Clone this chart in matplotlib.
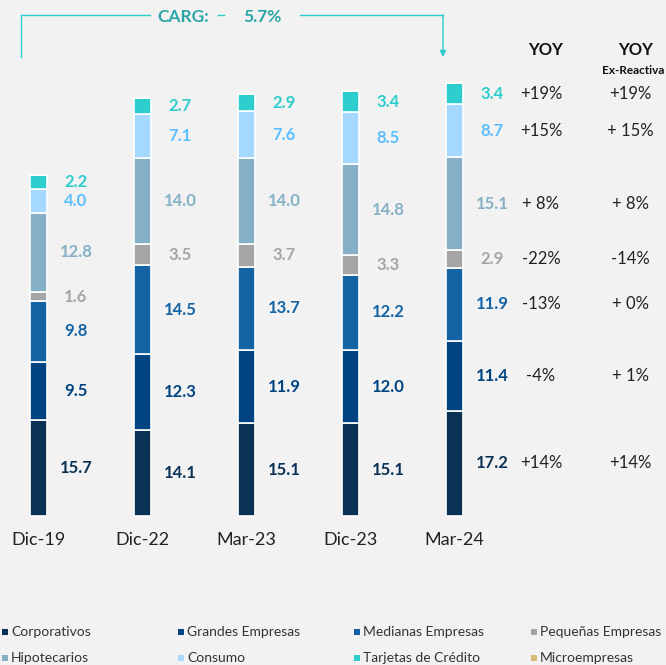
# Stacked bar chart: cartera por segmento, with YOY columns on the right
import matplotlib.pyplot as plt
from matplotlib.patches import Rectangle
from matplotlib.lines import Line2D
import numpy as np

plt.rcParams['font.family'] = ['Lato', 'DejaVu Sans']

# Data
periods = ['Dic-19', 'Dic-22', 'Mar-23', 'Dic-23', 'Mar-24']
series = ['Corporativos', 'Grandes Empresas', 'Medianas Empresas', 'Pequeñas Empresas',
          'Hipotecarios', 'Consumo', 'Tarjetas de Crédito', 'Microempresas']
corporativos = [15.7, 14.1, 15.1, 15.1, 17.2]
grandes = [9.5, 12.3, 11.9, 12.0, 11.4]
medianas = [9.8, 14.5, 13.7, 12.2, 11.9]
pequenas = [1.6, 3.5, 3.7, 3.3, 2.9]
hipotecarios = [12.8, 14.0, 14.0, 14.8, 15.1]
consumo = [4.0, 7.1, 7.6, 8.5, 8.7]
tarjetas = [2.2, 2.7, 2.9, 3.4, 3.4]
microempresas = [0, 0, 0, 0, 0]

# YOY, bottom segment to top segment
yoy = ['+14%', '-4%', '-13%', '-22%', '+ 8%', '+15%', '+19%']
yoy_ex = ['+14%', '+ 1%', '+ 0%', '-14%', '+ 8%', '+ 15%', '+19%']
carg = '5.7%'

colors = ['#0b3254', '#004481', '#1464a5', '#a5a5a5', '#85b0c6', '#a5d9ff', '#2dcccd', '#d8be75']
label_colors = ['#0b3254', '#004481', '#1464a5', '#a5a5a5', '#85b0c6', '#5bbeff', '#2dcccd', '#d8be75']

W, H = 666, 665
fig = plt.figure(figsize=(W / 100, H / 100), dpi=100)
fig.patch.set_facecolor('#f2f2f2')

ax = fig.add_axes([0, 0, 1, 1])
ax.set_facecolor('#f2f2f2')
ax.axis('off')

# pixel layout -> data limits
x0, dx = 38.5, 104.0
base, k = 516.0, 6.13
ax.set_xlim(-x0 / dx, (W - x0) / dx)
ax.set_ylim(-(H - base) / k, base / k)


def px(x, y):
    return x / W, 1 - y / H


stack = [corporativos, grandes, medianas, pequenas, hipotecarios, consumo, tarjetas, microempresas]
x = np.arange(len(periods))
bottom = np.zeros(len(periods))
centers = []
for vals, c, lc in zip(stack, colors, label_colors):
    vals = np.array(vals, dtype=float)
    ax.bar(x, vals, bottom=bottom, width=0.165, color=c, edgecolor='white', linewidth=1.2)
    mids = bottom + vals / 2
    centers.append(mids)
    for i, v in enumerate(vals):
        if v > 0:
            ax.text(x[i] + 0.36, mids[i], f'{v:.1f}', color=lc, fontsize=12,
                    fontweight='bold', ha='center', va='center')
    bottom = bottom + vals

# period labels
for i, p in enumerate(periods):
    ax.text(x[i], -(540 - base) / k, p, fontsize=13, color='#222222',
            ha='center', va='center')

# YOY columns aligned with last bar segments
fig.text(*px(546, 50), 'YOY', fontsize=12, fontweight='bold', color='#111111', ha='center', va='center')
fig.text(*px(636, 50), 'YOY', fontsize=12, fontweight='bold', color='#111111', ha='center', va='center')
fig.text(*px(633, 71), 'Ex-Reactiva', fontsize=8.5, fontweight='bold', color='#111111', ha='center', va='center')
for j in range(len(yoy)):
    yv = centers[j][-1]
    ax.text((541 - x0) / dx, yv, yoy[j], fontsize=12, color='#222222', ha='center', va='center')
    ax.text((630 - x0) / dx, yv, yoy_ex[j], fontsize=12, color='#222222', ha='center', va='center')

# CARG bracket
teal = '#2dcccd'
fig.add_artist(Line2D([21 / W, 21 / W], [1 - 57 / H, 1 - 15 / H], color=teal, lw=1))
fig.add_artist(Line2D([21 / W, 150 / W], [1 - 15 / H, 1 - 15 / H], color=teal, lw=1))
fig.add_artist(Line2D([300 / W, 443 / W], [1 - 15 / H, 1 - 15 / H], color=teal, lw=1))
fig.add_artist(Line2D([218 / W, 224 / W], [1 - 15 / H, 1 - 15 / H], color=teal, lw=1))
ax.annotate('', xy=px(443, 57), xytext=px(443, 15), xycoords='figure fraction',
            textcoords='figure fraction',
            arrowprops=dict(arrowstyle='-|>', color=teal, lw=1, mutation_scale=9, shrinkA=0, shrinkB=0))
fig.text(*px(183, 17), 'CARG:', fontsize=12.5, fontweight='bold', color='#2aa5a6', ha='center', va='center')
fig.text(*px(262, 17), carg, fontsize=12.5, fontweight='bold', color='#2aa5a6', ha='center', va='center')

# legend
col_x = [2, 178, 354, 531]
row_y = [632, 658]
for i, (name, c) in enumerate(zip(series, colors)):
    cx, cy = col_x[i % 4], row_y[i // 4]
    fig.add_artist(Rectangle(px(cx, cy + 3), 6 / W, 6 / H, transform=fig.transFigure,
                             facecolor=c, edgecolor='none'))
    fig.text(*px(cx + 9, cy), name, fontsize=10, color='#333333', ha='left', va='center')

plt.savefig('out.png', dpi=100, facecolor=fig.get_facecolor())
